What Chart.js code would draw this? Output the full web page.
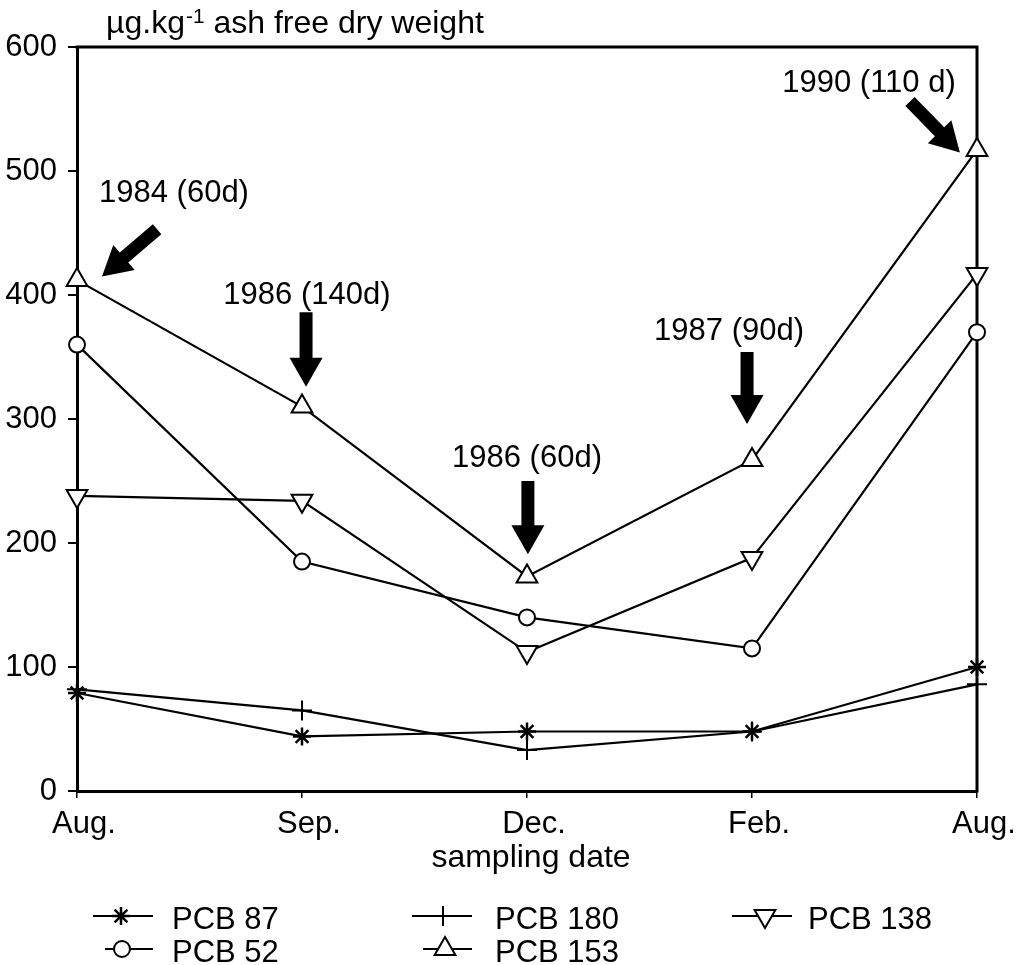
<!DOCTYPE html>
<html>
<head>
<meta charset="utf-8">
<title>PCB concentrations</title>
<script src="https://cdn.jsdelivr.net/npm/chart.js@4/dist/chart.umd.min.js"></script>
<style>
  html, body { margin: 0; padding: 0; background: #ffffff; }
  #wrap { width: 1018px; height: 965px; position: relative; }
  canvas { display: block; }
</style>
</head>
<body>
<div id="wrap"><canvas id="c" width="1018" height="965"></canvas></div>
<script>
// ---------------- data ----------------
const categories = ['Aug.', 'Sep.', 'Dec.', 'Feb.', 'Aug.'];
const seriesNames = ['PCB 87', 'PCB 180', 'PCB 138', 'PCB 52', 'PCB 153'];
const pcb87  = [79, 44, 48, 48, 100];
const pcb180 = [82, 65, 33, 48, 86];
const pcb138 = [238, 234, 112, 188, 417];
const pcb52  = [360, 185, 140, 115, 370];
const pcb153 = [412, 310, 173, 267, 517];
const yTickValues = [0, 100, 200, 300, 400, 500, 600];
const yUnitMain = 'µg.kg';
const yUnitSup = '-1';
const yUnitRest = ' ash free dry weight';
const xAxisTitle = 'sampling date';

// annotations (text position and arrow, in data units: category index / value)
const noteTexts  = ['1984 (60d)', '1986 (140d)', '1986 (60d)', '1987 (90d)', '1990 (110 d)'];
const noteTextX  = [0.431, 1.022, 2.0, 2.898, 3.52];
const noteTextY  = [475, 393, 261, 364, 564];
const arrowFromX = [0.356, 1.018, 2.004, 2.978, 3.702];
const arrowFromY = [453, 386, 250, 354, 556];
const arrowToX   = [0.111, 1.018, 2.004, 2.978, 3.924];
const arrowToY   = [415, 326, 191, 296, 515];

// ---------------- styles ----------------
const FONT = "'Liberation Sans', Arial, Helvetica, sans-serif";
const INK = '#000000';

const seriesStyles = [
  { pointStyle: 'star',     radius: 9,  rotation: 0,   bg: INK,       bw: 2.5 },
  { pointStyle: 'cross',    radius: 10, rotation: 0,   bg: INK,       bw: 2   },
  { pointStyle: 'triangle', radius: 12, rotation: 180, bg: '#ffffff', bw: 2   },
  { pointStyle: 'circle',   radius: 8,  rotation: 0,   bg: '#ffffff', bw: 2   },
  { pointStyle: 'triangle', radius: 12, rotation: 0,   bg: '#ffffff', bw: 2   }
];
const seriesData = [pcb87, pcb180, pcb138, pcb52, pcb153];

const datasets = seriesData.map((d, i) => ({
  label: seriesNames[i],
  data: d,
  borderColor: INK,
  borderWidth: 2.2,
  tension: 0,
  fill: false,
  clip: false,
  pointStyle: seriesStyles[i].pointStyle,
  pointRadius: seriesStyles[i].radius,
  pointHoverRadius: seriesStyles[i].radius,
  pointRotation: seriesStyles[i].rotation,
  pointBackgroundColor: seriesStyles[i].bg,
  pointBorderColor: INK,
  pointBorderWidth: seriesStyles[i].bw
}));

// legend layout (pixel layout of the legend block)
const legendLayout = [
  { ds: 0, x1: 93,  x2: 153, mx: 121, y: 916, tx: 172 },
  { ds: 3, x1: 105, x2: 153, mx: 122, y: 949, tx: 172 },
  { ds: 1, x1: 412, x2: 472, mx: 443, y: 916, tx: 495 },
  { ds: 4, x1: 423, x2: 472, mx: 445, y: 949, tx: 495 },
  { ds: 2, x1: 732, x2: 792, mx: 765, y: 916, tx: 808 }
];

function drawMarker(ctx, st, x, y) {
  ctx.save();
  ctx.strokeStyle = INK;
  ctx.fillStyle = st.bg;
  ctx.lineWidth = st.bw;
  if (Chart.helpers && Chart.helpers.drawPoint) {
    Chart.helpers.drawPoint(ctx, { pointStyle: st.pointStyle, rotation: st.rotation, radius: st.radius, borderWidth: st.bw }, x, y);
  }
  ctx.restore();
}

function drawArrow(ctx, x0, y0, x1, y1, shaftW, headW, headL) {
  const dx = x1 - x0, dy = y1 - y0;
  const len = Math.sqrt(dx * dx + dy * dy);
  const ux = dx / len, uy = dy / len;
  const px = -uy, py = ux;
  const bx = x1 - ux * headL, by = y1 - uy * headL;
  ctx.beginPath();
  ctx.moveTo(x0 + px * shaftW / 2, y0 + py * shaftW / 2);
  ctx.lineTo(bx + px * shaftW / 2, by + py * shaftW / 2);
  ctx.lineTo(bx + px * headW / 2, by + py * headW / 2);
  ctx.lineTo(x1, y1);
  ctx.lineTo(bx - px * headW / 2, by - py * headW / 2);
  ctx.lineTo(bx - px * shaftW / 2, by - py * shaftW / 2);
  ctx.lineTo(x0 - px * shaftW / 2, y0 - py * shaftW / 2);
  ctx.closePath();
  ctx.fill();
}

const decorPlugin = {
  id: 'decor',
  beforeDatasetsDraw(chart) {
    const { ctx, chartArea: a } = chart;
    ctx.save();
    ctx.strokeStyle = INK;
    ctx.lineWidth = 3;
    ctx.beginPath();
    ctx.moveTo(a.left - 1.5, a.top);
    ctx.lineTo(a.right, a.top);
    ctx.lineTo(a.right, a.bottom + 1.5);
    ctx.stroke();
    ctx.restore();
  },
  afterDraw(chart) {
    const { ctx, chartArea: a, scales } = chart;
    const xs = scales.x, ys = scales.y;
    ctx.save();
    ctx.fillStyle = INK;

    // y unit title
    ctx.textBaseline = 'alphabetic';
    ctx.textAlign = 'left';
    ctx.font = '32px ' + FONT;
    let tx = 106;
    ctx.fillText(yUnitMain, tx, 33);
    tx += ctx.measureText(yUnitMain).width + 1;
    ctx.font = '21px ' + FONT;
    ctx.fillText(yUnitSup, tx, 23);
    tx += ctx.measureText(yUnitSup).width;
    ctx.font = '32px ' + FONT;
    ctx.fillText(yUnitRest, tx, 33);

    // x axis title
    ctx.textAlign = 'center';
    ctx.fillText(xAxisTitle, (a.left + a.right) / 2 + 4, 867);

    // annotations
    for (let i = 0; i < noteTexts.length; i++) {
      ctx.textAlign = 'center';
      ctx.font = '31px ' + FONT;
      ctx.fillText(noteTexts[i], xs.getPixelForValue(noteTextX[i]), ys.getPixelForValue(noteTextY[i]));
      drawArrow(ctx,
        xs.getPixelForValue(arrowFromX[i]), ys.getPixelForValue(arrowFromY[i]),
        xs.getPixelForValue(arrowToX[i]), ys.getPixelForValue(arrowToY[i]),
        13, 33, 29);
    }

    // legend
    ctx.textAlign = 'left';
    ctx.font = '31px ' + FONT;
    legendLayout.forEach(it => {
      ctx.strokeStyle = INK;
      ctx.lineWidth = 2;
      ctx.beginPath();
      ctx.moveTo(it.x1, it.y);
      ctx.lineTo(it.x2, it.y);
      ctx.stroke();
      drawMarker(ctx, seriesStyles[it.ds], it.mx, it.y);
      ctx.fillStyle = INK;
      ctx.fillText(seriesNames[it.ds], it.tx, it.y + 13);
    });
    ctx.restore();
  }
};

new Chart(document.getElementById('c'), {
  type: 'line',
  data: { labels: categories, datasets: datasets },
  options: {
    responsive: false,
    animation: false,
    devicePixelRatio: 1,
    layout: { padding: { top: 47, right: 41, bottom: 114, left: 0 } },
    plugins: {
      legend: { display: false },
      tooltip: { enabled: false },
      title: { display: false }
    },
    scales: {
      x: {
        type: 'category',
        offset: false,
        grid: { display: true, drawOnChartArea: false, drawTicks: true, tickLength: 7, color: INK, lineWidth: 1.5 },
        border: { display: true, color: INK, width: 3 },
        ticks: { color: INK, font: { family: FONT, size: 31 }, padding: 8, labelOffset: 7, maxRotation: 0, autoSkip: false },
        afterFit(s) { s.height = 60; }
      },
      y: {
        min: yTickValues[0],
        max: yTickValues[yTickValues.length - 1],
        afterBuildTicks(s) { s.ticks = yTickValues.map(v => ({ value: v })); },
        grid: { display: true, drawOnChartArea: false, drawTicks: true, tickLength: 9, color: INK, lineWidth: 2 },
        border: { display: true, color: INK, width: 3 },
        ticks: { color: INK, font: { family: FONT, size: 31 }, padding: 11 },
        afterFit(s) { s.width = 77; }
      }
    }
  },
  plugins: [decorPlugin]
});
</script>
</body>
</html>
